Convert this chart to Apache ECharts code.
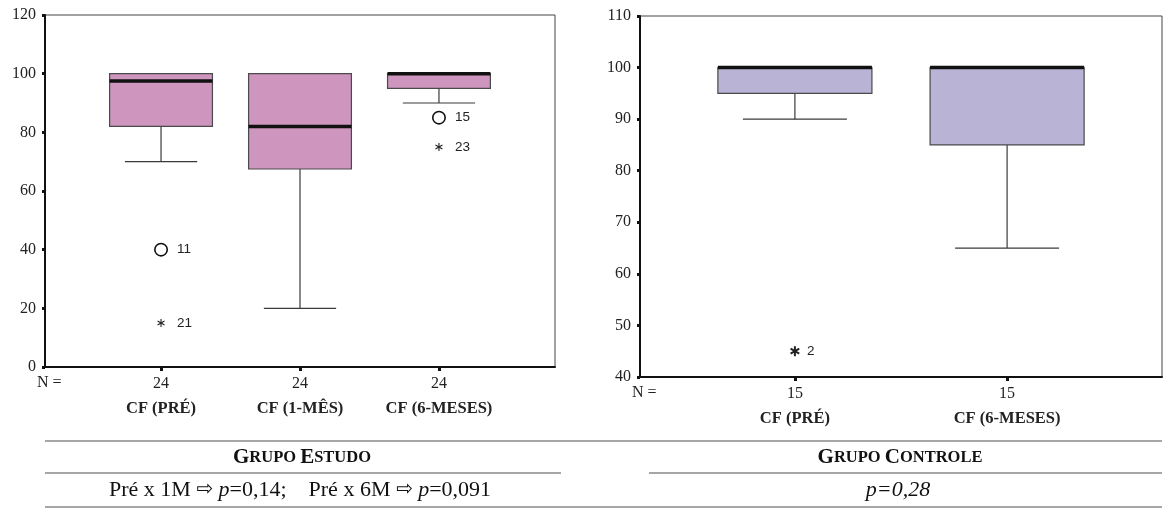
<!DOCTYPE html>
<html>
<head>
<meta charset="utf-8">
<script src="https://cdn.jsdelivr.net/npm/echarts@6/dist/echarts.min.js"></script>
<style>
html,body{margin:0;padding:0;background:#fff;}
#chart{width:1163px;height:509px;}
</style>
</head>
<body>
<div id="chart"></div>
<script>
// ---- Data ----
const categoriesStudy = ['CF (PRÉ)', 'CF (1-MÊS)', 'CF (6-MESES)'];
const nStudy = [24, 24, 24];
// [lower whisker, Q1, median, Q3, upper whisker]
const boxStudy = [
  [70, 82, 97.5, 100, 100],
  [20, 67.5, 82, 100, 100],
  [90, 95, 100, 100, 100]
];
// [category index, value, kind, case label]
const outliersStudy = [
  [0, 40, 'circle', '11'],
  [0, 15, 'star', '21'],
  [2, 85, 'circle', '15'],
  [2, 75, 'star', '23']
];
const yTicksStudy = [0, 120, 20];

const categoriesControl = ['CF (PRÉ)', 'CF (6-MESES)'];
const nControl = [15, 15];
const boxControl = [
  [90, 95, 100, 100, 100],
  [65, 85, 100, 100, 100]
];
const outliersControl = [
  [0, 45, 'star', '2']
];
const yTicksControl = [40, 110, 10];

const groupStudyTitle = ['G', 'RUPO', 'E', 'STUDO'];
const groupControlTitle = ['G', 'RUPO', 'C', 'ONTROLE'];
const pStudy1M = '0,14';
const pStudy6M = '0,091';
const pControl = '0,28';

// ---- Styles ----
const SERIF = '"Liberation Serif", "Times New Roman", serif';
const SANS = '"Liberation Sans", Arial, sans-serif';
const PINK = '#CE96BE';
const LAVENDER = '#B9B3D6';

function boxRenderer(widthFrac, capFrac, fill) {
  return function (params, api) {
    const x = api.value(0);
    const low = api.coord([x, api.value(1)]);
    const q1 = api.coord([x, api.value(2)]);
    const med = api.coord([x, api.value(3)]);
    const q3 = api.coord([x, api.value(4)]);
    const high = api.coord([x, api.value(5)]);
    const unit = api.size([1, 0])[0];
    const bw = unit * widthFrac, cw = unit * capFrac;
    const cx = q1[0];
    const lineStyle = { stroke: '#3a3a3a', lineWidth: 1.2 };
    return {
      type: 'group',
      children: [
        { type: 'line', shape: { x1: cx, y1: low[1], x2: cx, y2: q1[1] }, style: lineStyle },
        { type: 'line', shape: { x1: cx - cw / 2, y1: low[1], x2: cx + cw / 2, y2: low[1] }, style: lineStyle },
        { type: 'line', shape: { x1: cx, y1: q3[1], x2: cx, y2: high[1] }, style: lineStyle },
        { type: 'line', shape: { x1: cx - cw / 2, y1: high[1], x2: cx + cw / 2, y2: high[1] }, style: lineStyle },
        { type: 'rect', shape: { x: cx - bw / 2, y: q3[1], width: bw, height: q1[1] - q3[1] },
          style: { fill: fill, stroke: '#4a4a4a', lineWidth: 1.2 } },
        { type: 'line', shape: { x1: cx - bw / 2, y1: med[1], x2: cx + bw / 2, y2: med[1] },
          style: { stroke: '#111', lineWidth: 3.5 } }
      ]
    };
  };
}

function outlierRenderer(starR, starW, labelDx) {
  return function (params, api) {
    const p = api.coord([api.value(0), api.value(1)]);
    const kind = api.value(2);
    const label = api.value(3);
    const children = [];
    if (kind === 'circle') {
      children.push({ type: 'circle', shape: { cx: p[0], cy: p[1], r: 6.2 },
        style: { fill: '#fff', stroke: '#111', lineWidth: 1.6 } });
    } else {
      [90, 30, -30].forEach(function (a) {
        const r = a * Math.PI / 180;
        children.push({ type: 'line',
          shape: { x1: p[0] - starR * Math.cos(r), y1: p[1] - starR * Math.sin(r),
                   x2: p[0] + starR * Math.cos(r), y2: p[1] + starR * Math.sin(r) },
          style: { stroke: '#222', lineWidth: starW } });
      });
    }
    children.push({ type: 'text', x: p[0] + labelDx, y: p[1],
      style: { text: String(label), fill: '#222', font: '13.5px ' + SANS, textVerticalAlign: 'middle', textAlign: 'left' } });
    return { type: 'group', children: children };
  };
}

function xAxisFor(gridIndex, cats, ns, min, max) {
  const vals = cats.map(function (_, i) { return i; });
  return {
    gridIndex: gridIndex, type: 'value', min: min, max: max,
    axisLine: { show: true, onZero: false, lineStyle: { color: '#111', width: 2 } },
    axisTick: { show: true, customValues: vals, length: 4, lineStyle: { color: '#111', width: 3 } },
    splitLine: { show: false },
    axisLabel: {
      customValues: vals, margin: 8, color: '#222',
      formatter: function (v) {
        const i = Math.round(v);
        return '{n|' + ns[i] + '}\n{c|' + cats[i] + '}';
      },
      rich: {
        n: { fontFamily: SERIF, fontSize: 16, lineHeight: 18, color: '#222' },
        c: { fontFamily: SERIF, fontSize: 16.5, fontWeight: 'bold', lineHeight: 31, color: '#222' }
      }
    }
  };
}

function yAxisFor(gridIndex, ticks) {
  return {
    gridIndex: gridIndex, type: 'value', min: ticks[0], max: ticks[1], interval: ticks[2],
    axisLine: { show: true, onZero: false, lineStyle: { color: '#111', width: 2 } },
    axisTick: { show: true, length: 3, lineStyle: { color: '#111', width: 3 } },
    splitLine: { show: false },
    axisLabel: { fontFamily: SERIF, fontSize: 16, color: '#222', margin: 9 }
  };
}

function smallCaps(parts) {
  return '{b|' + parts[0] + '}{s|' + parts[1] + ' }{b|' + parts[2] + '}{s|' + parts[3] + '}';
}
const capsRich = {
  b: { fontFamily: SERIF, fontSize: 21, fontWeight: 'bold', fill: '#111' },
  s: { fontFamily: SERIF, fontSize: 16.5, fontWeight: 'bold', fill: '#111' }
};
const rowRich = {
  r: { fontFamily: SERIF, fontSize: 22, fill: '#111' },
  i: { fontFamily: SERIF, fontSize: 22, fontStyle: 'italic', fill: '#111' },
  a: { fontFamily: '"DejaVu Sans", sans-serif', fontSize: 20, fill: '#111' }
};

const chart = echarts.init(document.getElementById('chart'), null, { renderer: 'canvas' });
chart.setOption({
  backgroundColor: '#fff',
  animation: false,
  grid: [
    { left: 45, top: 15, width: 510, height: 352, show: true, borderColor: '#444', borderWidth: 1, backgroundColor: 'transparent' },
    { left: 640, top: 16, width: 522, height: 361, show: true, borderColor: '#444', borderWidth: 1, backgroundColor: 'transparent' }
  ],
  xAxis: [
    xAxisFor(0, categoriesStudy, nStudy, -0.835, 2.835),
    xAxisFor(1, categoriesControl, nControl, -0.73, 1.73)
  ],
  yAxis: [yAxisFor(0, yTicksStudy), yAxisFor(1, yTicksControl)],
  series: [
    { type: 'custom', xAxisIndex: 0, yAxisIndex: 0,
      renderItem: boxRenderer(0.74, 0.52, PINK),
      data: boxStudy.map(function (b, i) { return [i].concat(b); }) },
    { type: 'custom', xAxisIndex: 0, yAxisIndex: 0,
      renderItem: outlierRenderer(4, 1.1, 16),
      data: outliersStudy },
    { type: 'custom', xAxisIndex: 1, yAxisIndex: 1,
      renderItem: boxRenderer(0.726, 0.49, LAVENDER),
      data: boxControl.map(function (b, i) { return [i].concat(b); }) },
    { type: 'custom', xAxisIndex: 1, yAxisIndex: 1,
      renderItem: outlierRenderer(5, 2, 12),
      data: outliersControl }
  ],
  graphic: [
    { type: 'text', left: 37, top: 375, style: { text: 'N =', font: '16px ' + SERIF, fill: '#222' } },
    { type: 'text', left: 632, top: 385, style: { text: 'N =', font: '16px ' + SERIF, fill: '#222' } },
    // table
    { type: 'line', shape: { x1: 45, y1: 441, x2: 1162, y2: 441 }, style: { stroke: '#888', lineWidth: 1.5 } },
    { type: 'line', shape: { x1: 45, y1: 473, x2: 561, y2: 473 }, style: { stroke: '#888', lineWidth: 1.5 } },
    { type: 'line', shape: { x1: 649, y1: 473, x2: 1162, y2: 473 }, style: { stroke: '#888', lineWidth: 1.5 } },
    { type: 'line', shape: { x1: 45, y1: 507, x2: 1162, y2: 507 }, style: { stroke: '#888', lineWidth: 1.5 } },
    { type: 'text', x: 302, y: 458, style: { text: smallCaps(groupStudyTitle), rich: capsRich, align: 'center', verticalAlign: 'middle' } },
    { type: 'text', x: 900, y: 458, style: { text: smallCaps(groupControlTitle), rich: capsRich, align: 'center', verticalAlign: 'middle' } },
    { type: 'text', x: 300, y: 490, style: {
      text: '{r|Pré x 1M }{a|⇨}{r| }{i|p}{r|=' + pStudy1M + ';    Pré x 6M }{a|⇨}{r| }{i|p}{r|=' + pStudy6M + '}',
      rich: rowRich, align: 'center', verticalAlign: 'middle' } },
    { type: 'text', x: 898, y: 490, style: { text: '{i|p=' + pControl + '}', rich: rowRich, align: 'center', verticalAlign: 'middle' } }
  ]
});
</script>
</body>
</html>
